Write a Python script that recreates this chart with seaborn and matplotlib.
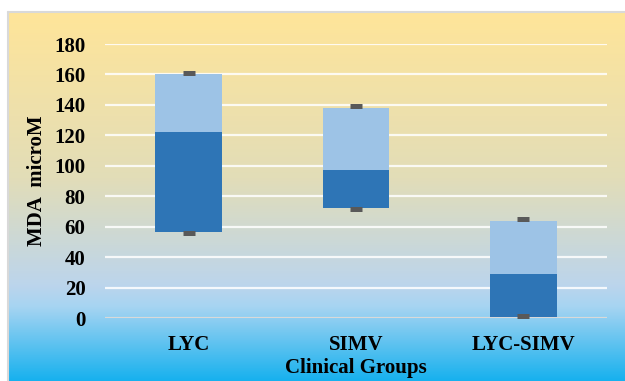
import numpy as np
import pandas as pd
import matplotlib
matplotlib.use("Agg")
import matplotlib.pyplot as plt
from matplotlib.colors import LinearSegmentedColormap
import seaborn as sns

# ---- data ----
groups = ["LYC", "SIMV", "LYC-SIMV"]
box_min = [56.5, 72.5, 1.0]
box_median = [122, 97, 29]
box_max = [160, 138, 64]
whisker_high = [161, 139, 65]
whisker_low = [56, 72, 1.5]
y_ticks = [0, 20, 40, 60, 80, 100, 120, 140, 160, 180]

sns.set_style("white")
plt.rcParams["font.family"] = ["Liberation Serif", "DejaVu Serif"]
plt.rcParams["font.weight"] = "bold"
plt.rcParams["text.color"] = "black"
plt.rcParams["axes.labelcolor"] = "black"
plt.rcParams["xtick.color"] = "black"
plt.rcParams["ytick.color"] = "black"

fig = plt.figure(figsize=(6.25, 3.81), dpi=100)
fig.patch.set_facecolor("white")

# gradient background panel
bg = fig.add_axes([8 / 625, 0, 617 / 625, 369 / 381], zorder=0)
cmap = LinearSegmentedColormap.from_list(
    "bgfill",
    [(0.0, "#FFE599"), (0.45, "#E2DDB8"), (0.74, "#BCD5EC"), (0.80, "#A6D4F2"), (1.0, "#17B1EE")],
)
grad = np.linspace(0, 1, 256).reshape(-1, 1)
bg.imshow(grad, aspect="auto", cmap=cmap, extent=[0, 1, 0, 1], vmin=0, vmax=1)
bg.set_xlim(0, 1)
bg.set_ylim(0, 1)
bg.axis("off")
bg.plot([0, 0], [0, 1], color="#D9D9D9", lw=1.5, transform=bg.transAxes, clip_on=False)
bg.plot([0, 1], [1, 1], color="#D9D9D9", lw=1.5, transform=bg.transAxes, clip_on=False)

ax = fig.add_axes([105 / 625, (381 - 318.3) / 381, 502 / 625, 274.3 / 381], zorder=1)
ax.patch.set_alpha(0)

df = pd.DataFrame({
    "group": groups,
    "low": box_min,
    "lower_seg": np.array(box_median) - np.array(box_min),
    "upper_seg": np.array(box_max) - np.array(box_median),
    "median": box_median,
})

sns.barplot(data=df, x="group", y="lower_seg", bottom=df["low"].values, order=groups,
            color="#2E75B6", saturation=1, width=0.4, linewidth=0, edgecolor="none",
            ax=ax, zorder=3)
sns.barplot(data=df, x="group", y="upper_seg", bottom=df["median"].values, order=groups,
            color="#9DC3E6", saturation=1, width=0.4, linewidth=0, edgecolor="none",
            ax=ax, zorder=3)

caps = pd.DataFrame({"group": groups * 2, "val": whisker_high + whisker_low})
sns.scatterplot(data=caps, x="group", y="val", marker="_", s=80, linewidth=3.6,
                color="#595959", ax=ax, zorder=4)

ax.set_ylim(0, 180)
ax.set_xlim(-0.5, 2.5)
ax.set_yticks(y_ticks)
for v in y_ticks:
    ax.axhline(v, color="#D9D9D9" if v == 0 else "white", lw=1.6, alpha=1 if v == 0 else 0.85, zorder=1)

for s in ax.spines.values():
    s.set_visible(False)
ax.tick_params(axis="both", length=0, labelsize=15, colors="black")
ax.tick_params(axis="y", pad=14)
ax.tick_params(axis="x", pad=12)
for t in ax.get_xticklabels() + ax.get_yticklabels():
    t.set_fontweight("bold")

ax.set_xlabel("Clinical Groups", fontsize=15, fontweight="bold", labelpad=2, color="black")
ax.set_ylabel("MDA  microM", fontsize=15, fontweight="bold", labelpad=5, color="black")

fig.savefig("out.png", dpi=100)
